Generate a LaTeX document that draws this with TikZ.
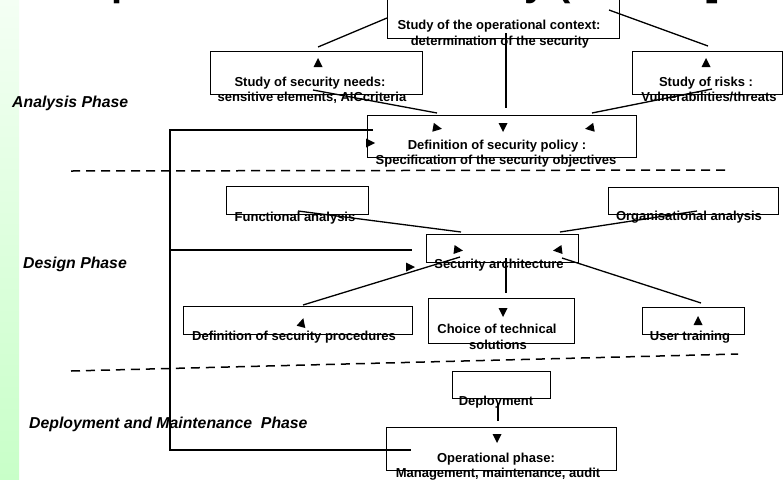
\documentclass[tikz,border=0pt]{standalone}
\usepackage{fontspec}
\setmainfont{Liberation Sans}
\newcommand\arrtri[3]{\fill[black,shift={(#1,#2)},rotate=#3] (0,-5) -- (-4.5,4) -- (4.5,4) -- cycle;}
\begin{document}
\begin{tikzpicture}[x=1pt,y=-1pt,
  box/.style={draw,line width=1.3pt,anchor=north west,inner sep=0pt},
  btxt/.style={font=\fontsize{13}{16}\selectfont\bfseries,anchor=base,inner sep=0pt},
  phase/.style={font=\fontsize{15.8}{18}\selectfont\bfseries\itshape,anchor=base west,inner sep=0pt},
  ttl/.style={font=\fontsize{40}{40}\selectfont\bfseries,anchor=base west,inner sep=0pt},
  conn/.style={line width=1.3pt},
  sepline/.style={line width=1.5pt,dash pattern=on 9pt off 6pt}]
\clip (0,0) rectangle (783,479);
\fill[white] (0,0) rectangle (783,479);
\shade[top color={rgb,255:red,244;green,255;blue,244},bottom color={rgb,255:red,200;green,255;blue,200}] (0,0) rectangle (19,479);

% clipped title fragments
\node[ttl] (ttlA) at (111,-5) {p};
\node[ttl] (ttlB) at (524,-5) {y (};
\node[ttl] (ttlC) at (706,-5) {]};

% phase labels
\node[phase] (pA) at (12,107) {Analysis Phase};
\node[phase] (pD) at (23,268) {Design Phase};
\node[phase] (pM) at (29,428) {Deployment and Maintenance\ \ Phase};

% box texts
\node[btxt] (tA1) at (499,29) {Study of the operational context:};
\node[btxt] (tA2) at (500,45) {determination of the security};
\node[btxt] (tB1) at (310,86) {Study of security needs:};
\node[btxt] (tB2) at (312,101) {sensitive elements, AICcriteria};
\node[btxt] (tC1) at (706,86) {Study of risks :};
\node[btxt] (tC2) at (709,101) {Vulnerabilities/threats};
\node[btxt] (tD1) at (497,149) {Definition of security policy :};
\node[btxt] (tD2) at (496,164) {Specification of the security objectives};
\node[btxt] (tE) at (295,221) {Functional analysis};
\node[btxt] (tF) at (689,220) {Organisational analysis};
\node[btxt] (tG) at (499,268) {Security architecture};
\node[btxt] (tH) at (294,340) {Definition of security procedures};
\node[btxt] (tI1) at (497,333) {Choice of technical};
\node[btxt] (tI2) at (498,349) {solutions};
\node[btxt] (tJ) at (690,340) {User training};
\node[btxt] (tK) at (496,405) {Deployment};
\node[btxt] (tL1) at (496,462) {Operational phase:};
\node[btxt] (tL2) at (498,477) {Management, maintenance, audit};

% boxes
\node[box,minimum width=232pt,minimum height=41pt] (A) at (387,-3) {};
\node[box,minimum width=212pt,minimum height=43pt] (B) at (210,51) {};
\node[box,minimum width=150pt,minimum height=43pt] (C) at (632,51) {};
\node[box,minimum width=269pt,minimum height=42pt] (D) at (367,115) {};
\node[box,minimum width=142pt,minimum height=28pt] (E) at (226,186) {};
\node[box,minimum width=170pt,minimum height=27pt] (F) at (608,187) {};
\node[box,minimum width=152pt,minimum height=28pt] (G) at (426,234) {};
\node[box,minimum width=229pt,minimum height=28pt] (H) at (183,306) {};
\node[box,minimum width=146pt,minimum height=45pt] (I) at (428,298) {};
\node[box,minimum width=102pt,minimum height=27pt] (J) at (642,307) {};
\node[box,minimum width=98pt,minimum height=27pt] (K) at (452,371) {};
\node[box,minimum width=230pt,minimum height=43pt] (L) at (386,427) {};

% connector end points
\coordinate (ab1) at (387,18);  \coordinate (ab2) at (318,47);
\coordinate (ac1) at (609,10);  \coordinate (ac2) at (708,46);
\coordinate (ad1) at (506,33);  \coordinate (ad2) at (506,108);
\coordinate (bd1) at (313,90);  \coordinate (bd2) at (437,113);
\coordinate (cd1) at (712,89);  \coordinate (cd2) at (592,113);
\coordinate (lp1) at (373,130); \coordinate (lp2) at (170,130);
\coordinate (lp3) at (170,450); \coordinate (lp4) at (411,450);
\coordinate (lp5) at (170,250); \coordinate (lp6) at (412,250);
\coordinate (eg1) at (298,211); \coordinate (eg2) at (461,232);
\coordinate (fg1) at (697,211); \coordinate (fg2) at (560,232);
\coordinate (gh1) at (460,257); \coordinate (gh2) at (303,305);
\coordinate (gi1) at (506,258); \coordinate (gi2) at (506,293);
\coordinate (gj1) at (562,258); \coordinate (gj2) at (701,303);
\coordinate (kl1) at (498,403); \coordinate (kl2) at (498,421);
\coordinate (s1a) at (71,171);  \coordinate (s1b) at (730,170);
\coordinate (s2a) at (71,371);  \coordinate (s2b) at (738,354);

% connectors
\draw[conn] (ab1) -- (ab2);
\draw[conn] (ac1) -- (ac2);
\draw[conn] (ad1) -- (ad2);
\draw[conn] (bd1) -- (bd2);
\draw[conn] (cd1) -- (cd2);
\draw[conn] (lp1) -- (lp2) -- (lp3) -- (lp4);
\draw[conn] (lp5) -- (lp6);
\draw[conn] (eg1) -- (eg2);
\draw[conn] (fg1) -- (fg2);
\draw[conn] (gh1) -- (gh2);
\draw[conn] (gi1) -- (gi2);
\draw[conn] (gj1) -- (gj2);
\draw[conn] (kl1) -- (kl2);

% phase separators
\draw[sepline] (s1a) -- (s1b);
\draw[sepline] (s2a) -- (s2b);

% arrow heads
\arrtri{318}{63}{0}
\arrtri{706}{63}{0}
\arrtri{503}{127}{180}
\arrtri{437}{128}{-100}
\arrtri{590}{128}{100}
\arrtri{370}{143}{-90}
\arrtri{458}{250}{-97}
\arrtri{558}{250}{97}
\arrtri{410}{267}{-90}
\arrtri{302}{323}{-15}
\arrtri{503}{312}{180}
\arrtri{698}{321}{0}
\arrtri{497}{438}{180}
\end{tikzpicture}
\end{document}
